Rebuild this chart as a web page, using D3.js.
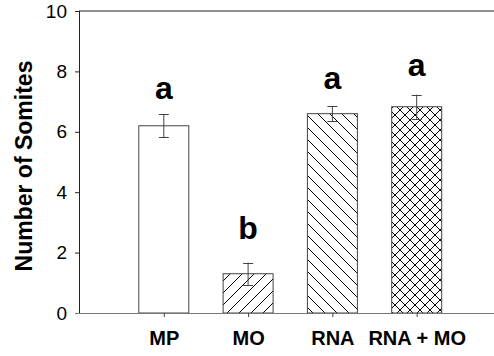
<!DOCTYPE html>
<html>
<head>
<meta charset="utf-8">
<script src="https://cdn.jsdelivr.net/npm/d3@7"></script>
<style>
  body { margin: 0; background: #fff; }
  svg { display: block; font-family: Arial, "Liberation Sans", sans-serif; }
</style>
</head>
<body>
<div id="chart"></div>
<script>
// data
const groups = ['MP', 'MO', 'RNA', 'RNA + MO'];
const means = [6.2, 1.3, 6.6, 6.83];
const errs = [0.38, 0.37, 0.25, 0.4];
const letters = ['a', 'b', 'a', 'a'];
const letterAt = [7.1, 2.45, 7.42, 7.85];
const yTicks = [0, 2, 4, 6, 8, 10];
const fills = ['none', 'diagUp', 'diagDown', 'cross'];

const W = 494, H = 356;
const margin = {top: 11, right: 0, bottom: 43, left: 79};
const svg = d3.select('#chart').append('svg').attr('width', W).attr('height', H);

// hatch patterns
const defs = svg.append('defs');
function pattern(id, size, paths) {
  const p = defs.append('pattern').attr('id', id).attr('patternUnits', 'userSpaceOnUse')
    .attr('width', size).attr('height', size);
  p.append('rect').attr('width', size).attr('height', size).attr('fill', '#fff');
  paths.forEach(d => p.append('path').attr('d', d).attr('stroke', '#000').attr('stroke-width', 1).attr('fill', 'none'));
}
pattern('diagUp', 12, ['M0,12 L12,0', 'M-3,3 L3,-3', 'M9,15 L15,9']);
pattern('diagDown', 12, ['M0,0 L12,12', 'M-3,9 L3,15', 'M9,-3 L15,3']);
pattern('cross', 10, ['M0,0 L10,10', 'M0,10 L10,0']);

const x = d3.scalePoint().domain(groups).range([margin.left, 500.5]).padding(1);
const y = d3.scaleLinear().domain([0, 10]).range([H - margin.bottom, margin.top]);
const barW = 50;

// top frame line
svg.append('line').attr('x1', margin.left).attr('x2', W).attr('y1', y(10)).attr('y2', y(10))
  .attr('stroke', '#222').attr('stroke-width', 1);

// bars
svg.selectAll('.bar').data(groups).enter().append('rect')
  .attr('x', d => x(d) - barW / 2 + 0.5)
  .attr('y', (d, i) => y(means[i]))
  .attr('width', barW)
  .attr('height', (d, i) => y(0) - y(means[i]))
  .attr('fill', (d, i) => fills[i] === 'none' ? '#fff' : `url(#${fills[i]})`)
  .attr('stroke', '#444').attr('stroke-width', 1);

// error bars
const eb = svg.selectAll('.err').data(groups).enter().append('g').attr('stroke', '#444').attr('stroke-width', 1);
eb.append('line').attr('x1', d => x(d) + 0.5).attr('x2', d => x(d) + 0.5)
  .attr('y1', (d, i) => y(means[i] + errs[i])).attr('y2', (d, i) => y(means[i] - errs[i]));
eb.append('line').attr('x1', d => x(d) - 4.5).attr('x2', d => x(d) + 5.5)
  .attr('y1', (d, i) => Math.round(y(means[i] + errs[i])) + 0.5).attr('y2', (d, i) => Math.round(y(means[i] + errs[i])) + 0.5);
eb.append('line').attr('x1', d => x(d) - 4.5).attr('x2', d => x(d) + 5.5)
  .attr('y1', (d, i) => Math.round(y(means[i] - errs[i])) + 0.5).attr('y2', (d, i) => Math.round(y(means[i] - errs[i])) + 0.5);

// significance letters
svg.selectAll('.sig').data(groups).enter().append('text')
  .attr('x', d => x(d) + 0.5).attr('y', (d, i) => y(letterAt[i]))
  .attr('text-anchor', 'middle').attr('font-size', '32px').attr('font-weight', 'bold')
  .text((d, i) => letters[i]);

// y axis
const yAxis = svg.append('g').attr('transform', `translate(${margin.left},0)`)
  .call(d3.axisLeft(y).tickValues(yTicks).tickSize(4).tickPadding(8));
yAxis.select('.domain').attr('stroke', '#222').attr('d', `M0.5,${y(10)}V${y(0)}`);
yAxis.selectAll('.tick line').attr('stroke', '#222');
yAxis.selectAll('.tick text').attr('font-size', '19px').attr('font-family', 'Arial, "Liberation Sans", sans-serif').attr('fill', '#000');

// x axis
const xAxis = svg.append('g').attr('transform', `translate(0.5,${y(0)})`)
  .call(d3.axisBottom(x).tickSize(4).tickPadding(14));
xAxis.select('.domain').attr('stroke', '#777').attr('d', `M${margin.left - 4.5},0.5H${W}`);
xAxis.selectAll('.tick line').attr('stroke', '#444');
xAxis.selectAll('.tick text').attr('font-size', '20px').attr('font-weight', 'bold')
  .attr('font-family', 'Arial, "Liberation Sans", sans-serif').attr('fill', '#000');

// y axis title
svg.append('text').attr('transform', `translate(32,${(y(0) + y(10)) / 2 + 4}) rotate(-90)`)
  .attr('text-anchor', 'middle').attr('font-size', '23px').attr('font-weight', 'bold')
  .text('Number of Somites');
</script>
</body>
</html>
